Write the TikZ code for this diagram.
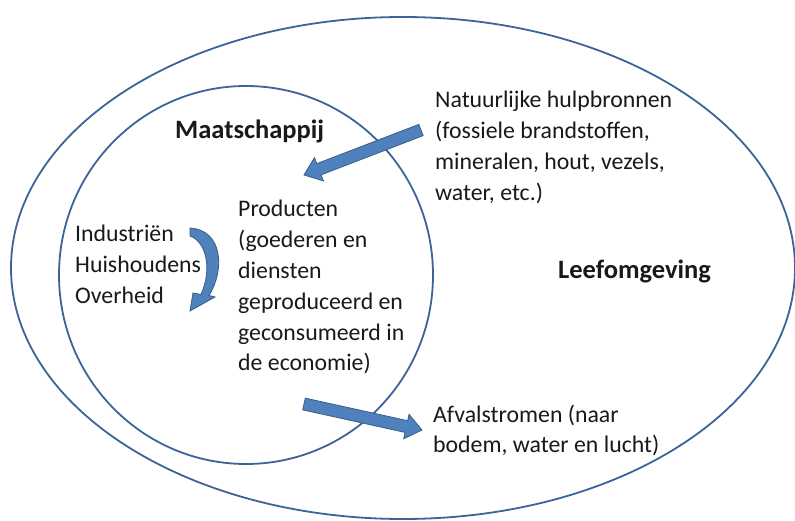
\documentclass[tikz,border=0pt]{standalone}
\usepackage{fontspec}
\setmainfont{Carlito}
\usetikzlibrary{calc}
\definecolor{ringblue}{HTML}{3D6499}
\definecolor{arrowfill}{HTML}{4F81BD}
\definecolor{arrowline}{HTML}{385D8A}
\newcommand\textlines[1]{\vtop{\halign{##\hfil\cr#1\crcr}}}
\tikzset{
  txt/.style={font=\fontsize{23.8pt}{30.8pt}\selectfont, anchor=base west, inner sep=0pt, text=black!90},
  bold/.style={font=\fontsize{26.5pt}{30pt}\selectfont\bfseries, anchor=base west, inner sep=0pt, text=black!90},
  ring/.style={draw=ringblue, line width=1.8pt},
  blockarrowstyle/.style={fill=arrowfill, draw=arrowline, line width=0.8pt, line join=miter}
}
\newcommand\blockarrow[2]{%
  \coordinate (#1#2h) at ($(#2)!16pt!(#1)$);
  \path[blockarrowstyle] ($(#1)!6pt!90:(#2)$) -- ($(#1#2h)!6pt!90:(#2)$) -- ($(#1#2h)!12.5pt!90:(#2)$) -- (#2)
    -- ($(#1#2h)!12.5pt!-90:(#2)$) -- ($(#1#2h)!6pt!-90:(#2)$) -- ($(#1)!6pt!-90:(#2)$) -- cycle;
}
\begin{document}
\begin{tikzpicture}[x=1pt, y=-1pt]
\useasboundingbox (0,0) rectangle (795,521);
\fill[white] (0,0) rectangle (795,521);
% ellipses
\draw[ring] (403,268) ellipse [x radius=392, y radius=251];
\draw[ring] (246,275) ellipse [x radius=187, y radius=189];
% texts
\node[bold] (maat) at (175,139) {Maatschappij};
\node[bold] (leef) at (558,279) {Leefomgeving};
\node[txt] (nat) at (435,108) {\textlines{Natuurlijke hulpbronnen\cr(fossiele brandstoffen,\cr mineralen, hout, vezels,\cr water, etc.)}};
\node[txt] (ind) at (75,242) {\textlines{Industriën\cr Huishoudens\cr Overheid}};
\node[txt] (prod) at (238,217) {\textlines{Producten\cr(goederen en\cr diensten\cr geproduceerd en\cr geconsumeerd in\cr de economie)}};
\node[txt] (afv) at (433,422) {\textlines{Afvalstromen (naar\cr bodem, water en lucht)}};
% straight block arrows
\coordinate (inTail) at (421,130);
\coordinate (inTip) at (304,175);
\coordinate (outTail) at (304,404);
\coordinate (outTip) at (422,430);
\blockarrow{inTail}{inTip}
\blockarrow{outTail}{outTip}
% curved block arrow
\path[blockarrowstyle] (190,228) .. controls (223,230) and (225,270) .. (209,295.5)
  -- (215,297) -- (190,311) -- (193,293) -- (201,294.5)
  .. controls (212,270) and (207,242) .. (190,236) -- cycle;
\end{tikzpicture}
\end{document}
